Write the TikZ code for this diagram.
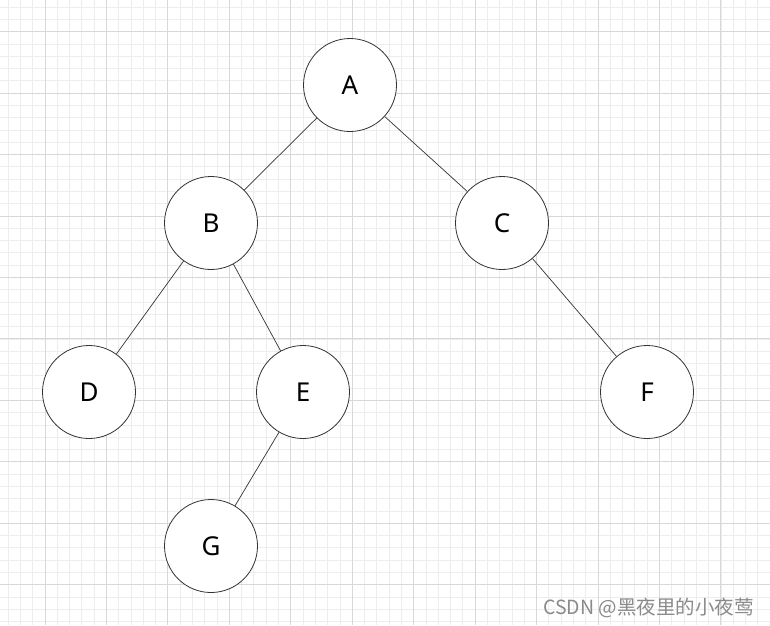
\documentclass[tikz,border=0pt]{standalone}
\usepackage{fontspec}
\setmainfont{Noto Sans}
\newfontfamily\cjkfont{Noto Sans CJK SC}
\usepackage{xcolor}
\usepackage{tikz}
\usetikzlibrary{positioning}

\definecolor{gridminor}{HTML}{EDEDED}
\definecolor{gridmajor}{HTML}{D8D8D8}
\definecolor{edgecol}{HTML}{333333}
\definecolor{markcol}{HTML}{8A8A8A}

\begin{document}
\begin{tikzpicture}[
  x=1pt, y=-1pt,
  font=\fontsize{26}{30}\selectfont,
  vertex/.style={circle, draw=edgecol, fill=white, line width=0.8pt, minimum size=93pt, inner sep=0pt, text=black},
  branch/.style={draw=edgecol, line width=0.7pt},
  minorline/.style={draw=gridminor, line width=0.9pt},
  majorline/.style={draw=gridmajor, line width=1pt},
]
\useasboundingbox (0,0) rectangle (770,625);
\fill[white] (0,0) rectangle (770,625);

% background grid (minor every 12.29, major every 61.45)
\begin{scope}
\clip (0,0) rectangle (770,625);
\foreach \i in {0,...,65} {
  \draw[minorline] (-16.45+\i*12.29,0) -- (-16.45+\i*12.29,625);
}
\foreach \i in {0,...,54} {
  \draw[minorline] (0,-29.75+\i*12.29) -- (770,-29.75+\i*12.29);
}
\foreach \i in {0,...,13} {
  \draw[majorline] (-16.45+\i*61.45,0) -- (-16.45+\i*61.45,625);
}
\foreach \i in {0,...,11} {
  \draw[majorline] (0,-29.75+\i*61.45) -- (770,-29.75+\i*61.45);
}
\end{scope}

% tree nodes
\node[vertex] (a) at (350,85)  {A};
\node[vertex] (b) at (211,223) {B};
\node[vertex] (c) at (502,223) {C};
\node[vertex] (d) at (89,392)  {D};
\node[vertex] (e) at (303,392) {E};
\node[vertex] (f) at (647,392) {F};
\node[vertex] (g) at (211,546) {G};

% branches
\draw[branch] (a) -- (b);
\draw[branch] (a) -- (c);
\draw[branch] (b) -- (d);
\draw[branch] (b) -- (e);
\draw[branch] (c) -- (f);
\draw[branch] (e) -- (g);

% watermark
\node[anchor=base west, inner sep=0pt, text=markcol, font=\cjkfont\fontsize{19.5}{23}\selectfont] (mark) at (543,614) {CSDN @黑夜里的小夜莺};
\end{tikzpicture}
\end{document}
